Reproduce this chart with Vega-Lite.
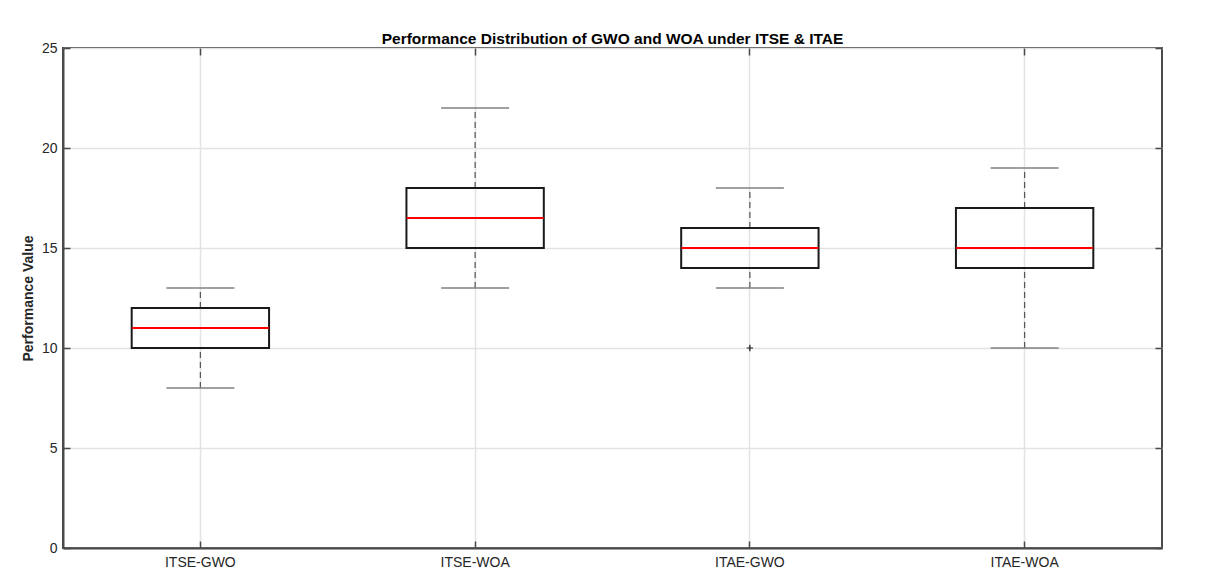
{
  "$schema": "https://vega.github.io/schema/vega-lite/v6.json",
  "width": 1099,
  "height": 500,
  "autosize": {"type": "none"},
  "padding": {"left": 63, "top": 48, "right": 58, "bottom": 35},
  "background": "white",
  "title": {
    "text": "Performance Distribution of GWO and WOA under ITSE & ITAE",
    "font": "Liberation Sans",
    "fontSize": 15.5,
    "fontWeight": "bold",
    "color": "#000000",
    "anchor": "middle",
    "offset": -6
  },
  "config": {
    "view": {"stroke": "#4a4a4a", "strokeWidth": 2},
    "axis": {
      "labelFont": "Liberation Sans",
      "titleFont": "Liberation Sans",
      "labelFontSize": 14,
      "labelColor": "#262626",
      "domainColor": "#4a4a4a",
      "domainWidth": 2,
      "tickColor": "#4a4a4a",
      "tickWidth": 1.5,
      "gridColor": "#e3e3e3",
      "gridWidth": 1.5,
      "gridOpacity": 1
    }
  },
  "datasets": {
    "boxes": [
      {"group": "ITSE-GWO", "lower": 8, "q1": 10, "median": 11, "q3": 12, "upper": 13},
      {"group": "ITSE-WOA", "lower": 13, "q1": 15, "median": 16.5, "q3": 18, "upper": 22},
      {"group": "ITAE-GWO", "lower": 13, "q1": 14, "median": 15, "q3": 16, "upper": 18},
      {"group": "ITAE-WOA", "lower": 10, "q1": 14, "median": 15, "q3": 17, "upper": 19}
    ],
    "outliers": [
      {"group": "ITAE-GWO", "value": 10}
    ]
  },
  "data": {"name": "boxes"},
  "resolve": {"axis": {"x": "independent", "y": "independent"}},
  "layer": [
    {
      "mark": {"type": "rule", "strokeDash": [6, 4], "color": "#555555", "strokeWidth": 1.2},
      "encoding": {
        "x": {
          "field": "group", "type": "nominal", "sort": null,
          "scale": {"paddingInner": 0, "paddingOuter": 0},
          "axis": {
            "title": null, "orient": "bottom", "labelAngle": 0,
            "grid": true, "bandPosition": 0.5,
            "tickSize": -7, "labelPadding": 14
          }
        },
        "y": {
          "field": "lower", "type": "quantitative",
          "scale": {"domain": [0, 25], "nice": false, "zero": false},
          "axis": {
            "title": "Performance Value", "titleFontSize": 14, "titleFontWeight": "bold",
            "titleColor": "#262626", "titlePadding": 6,
            "values": [0, 5, 10, 15, 20, 25], "grid": true,
            "tickSize": -7, "labelPadding": 13
          }
        },
        "y2": {"field": "q1"}
      }
    },
    {
      "mark": {"type": "rule", "strokeDash": [6, 4], "color": "#555555", "strokeWidth": 1.2},
      "encoding": {
        "x": {"field": "group", "type": "nominal", "sort": null, "axis": null},
        "y": {"field": "q3", "type": "quantitative", "axis": null},
        "y2": {"field": "upper"}
      }
    },
    {
      "mark": {"type": "tick", "color": "#808080", "size": 68, "thickness": 1.5, "opacity": 1},
      "encoding": {
        "x": {
          "field": "group", "type": "nominal", "sort": null,
          "axis": {
            "title": null, "orient": "top", "labels": false, "grid": false,
            "domain": false, "bandPosition": 0.5, "tickSize": -7
          }
        },
        "y": {
          "field": "lower", "type": "quantitative",
          "axis": {
            "title": null, "orient": "right", "labels": false, "grid": false,
            "domain": false, "values": [0, 5, 10, 15, 20, 25], "tickSize": -7
          }
        }
      }
    },
    {
      "mark": {"type": "tick", "color": "#808080", "size": 68, "thickness": 1.5, "opacity": 1},
      "encoding": {
        "x": {"field": "group", "type": "nominal", "sort": null, "axis": null},
        "y": {"field": "upper", "type": "quantitative", "axis": null}
      }
    },
    {
      "mark": {"type": "bar", "fill": null, "fillOpacity": 0, "stroke": "#1a1a1a", "strokeWidth": 2, "width": {"band": 0.5}},
      "encoding": {
        "x": {"field": "group", "type": "nominal", "sort": null, "axis": null},
        "y": {"field": "q1", "type": "quantitative", "axis": null},
        "y2": {"field": "q3"}
      }
    },
    {
      "mark": {"type": "tick", "color": "#ff0000", "size": 137, "thickness": 2, "opacity": 1},
      "encoding": {
        "x": {"field": "group", "type": "nominal", "sort": null, "axis": null},
        "y": {"field": "median", "type": "quantitative", "axis": null}
      }
    },
    {
      "data": {"name": "outliers"},
      "mark": {"type": "point", "shape": "M-1,0L1,0M0,-1L0,1", "filled": false, "stroke": "#1a1a1a", "strokeWidth": 1.2, "size": 40, "opacity": 1},
      "encoding": {
        "x": {"field": "group", "type": "nominal", "sort": null, "axis": null},
        "y": {"field": "value", "type": "quantitative", "axis": null}
      }
    }
  ]
}
